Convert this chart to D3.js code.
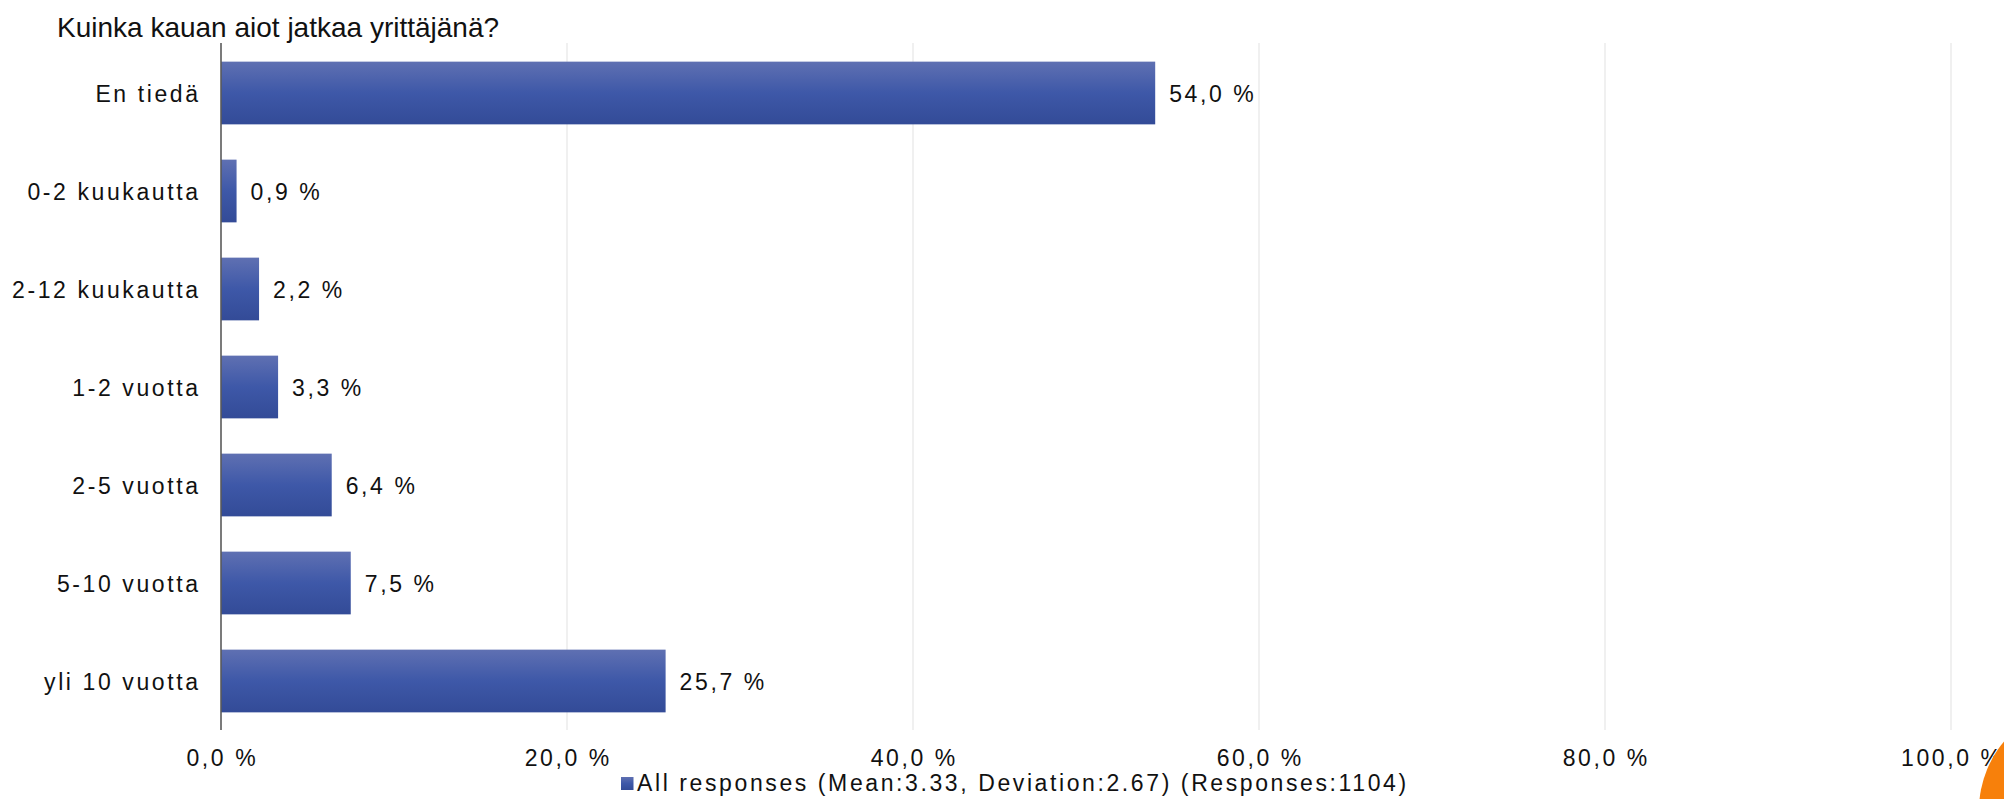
<!DOCTYPE html>
<html>
<head>
<meta charset="utf-8">
<script src="https://cdn.jsdelivr.net/npm/d3@7"></script>
<style>
  html, body { margin: 0; padding: 0; background: #fff; }
  svg { display: block; }
  text { font-family: "Liberation Sans", Arial, sans-serif; fill: #111; }
</style>
</head>
<body>
<svg id="chart" width="2004" height="799"></svg>
<script>
const title = "Kuinka kauan aiot jatkaa yrittäjänä?";
const categories = ["En tiedä", "0-2 kuukautta", "2-12 kuukautta", "1-2 vuotta", "2-5 vuotta", "5-10 vuotta", "yli 10 vuotta"];
const values = [54.0, 0.9, 2.2, 3.3, 6.4, 7.5, 25.7];
const tickValues = [0, 20, 40, 60, 80, 100];
const legendLabel = "All responses (Mean:3.33, Deviation:2.67) (Responses:1104)";

const fmt = v => v.toFixed(1).replace(".", ",") + " %";
const LS = 2.6;
const FS = 23;

const svg = d3.select("#chart");
const x = d3.scaleLinear().domain([0, 100]).range([221, 1951]);
const y = d3.scaleBand().domain(categories).range([44, 730]).paddingInner(0.36).paddingOuter(0.18);

const defs = svg.append("defs");
const grad = defs.append("linearGradient").attr("id", "barGrad")
  .attr("x1", 0).attr("y1", 0).attr("x2", 0).attr("y2", 1);
grad.append("stop").attr("offset", "0%").attr("stop-color", "#5f70b2");
grad.append("stop").attr("offset", "50%").attr("stop-color", "#3e58a8");
grad.append("stop").attr("offset", "100%").attr("stop-color", "#334b97");

// gridlines
svg.append("g").selectAll("line").data(tickValues.filter(d => d > 0)).join("line")
  .attr("x1", d => x(d)).attr("x2", d => x(d))
  .attr("y1", 43).attr("y2", 730)
  .attr("stroke", "#ebebeb").attr("stroke-width", 1.5);

// bars
svg.append("g").selectAll("rect").data(values).join("rect")
  .attr("x", x(0))
  .attr("y", (d, i) => y(categories[i]))
  .attr("width", d => x(d) - x(0))
  .attr("height", y.bandwidth())
  .attr("fill", "url(#barGrad)");

// value labels
svg.append("g").selectAll("text").data(values).join("text")
  .attr("x", d => x(d) + 14)
  .attr("y", (d, i) => y(categories[i]) + y.bandwidth() / 2 + 8.5)
  .attr("font-size", FS)
  .attr("letter-spacing", LS)
  .text(d => fmt(d));

// category labels
svg.append("g").selectAll("text").data(categories).join("text")
  .attr("x", 198 + LS)
  .attr("y", d => y(d) + y.bandwidth() / 2 + 8.5)
  .attr("text-anchor", "end")
  .attr("font-size", FS)
  .attr("letter-spacing", LS)
  .text(d => d);

// axis line
svg.append("line")
  .attr("x1", x(0)).attr("x2", x(0)).attr("y1", 43).attr("y2", 730)
  .attr("stroke", "#5a5a5a").attr("stroke-width", 1.6);

// x tick labels
svg.append("g").selectAll("text").data(tickValues).join("text")
  .attr("x", d => x(d) + LS / 2)
  .attr("y", 766)
  .attr("text-anchor", "middle")
  .attr("font-size", FS)
  .attr("letter-spacing", LS)
  .text(d => fmt(d));

// title
svg.append("text")
  .attr("x", 57).attr("y", 37)
  .attr("font-size", 28)
  .text(title);

// legend
svg.append("rect").attr("x", 621).attr("y", 777).attr("width", 12.5).attr("height", 13)
  .attr("fill", "url(#barGrad)");
svg.append("text").attr("x", 637).attr("y", 791)
  .attr("font-size", FS)
  .attr("letter-spacing", LS)
  .text(legendLabel);

// orange corner shape
svg.append("circle").attr("cx", 2085).attr("cy", 810).attr("r", 106).attr("fill", "#f7800b");
</script>
</body>
</html>
